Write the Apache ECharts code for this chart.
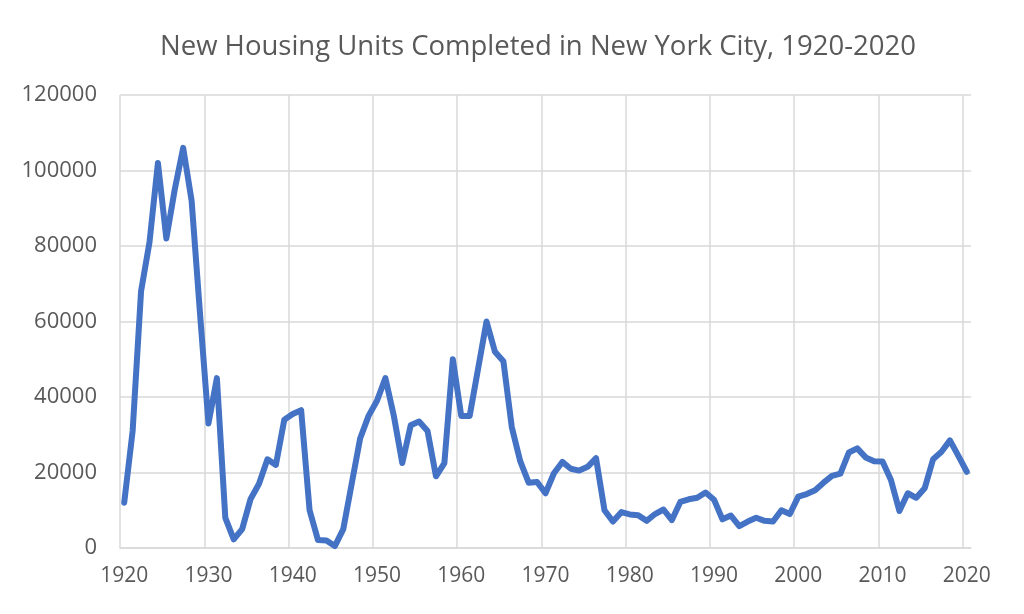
<!DOCTYPE html>
<html>
<head>
<meta charset="utf-8">
<script src="https://cdn.jsdelivr.net/npm/echarts@6/dist/echarts.min.js"></script>
<style>html,body{margin:0;padding:0;background:#fff}#c{width:1024px;height:614px}</style>
</head>
<body>
<div id="c"></div>
<script>
const titleText = "New Housing Units Completed in New York City, 1920-2020";
const years = [];
for (let y = 1920; y <= 2020; y++) years.push(String(y));
const units1920s = [12000, 31000, 68000, 81000, 102000, 82000, 95000, 106000, 92000, 62000];
const units1930s = [33000, 45000, 8000, 2300, 5000, 13000, 17000, 23500, 22000, 34000];
const units1940s = [35500, 36500, 10000, 2100, 2000, 500, 5000, 17000, 29000, 35000];
const units1950s = [39000, 45000, 35000, 22500, 32500, 33500, 31000, 19000, 22500, 50000];
const units1960s = [35000, 35000, 47500, 60000, 52000, 49500, 32000, 23000, 17300, 17500];
const units1970s = [14500, 19800, 22800, 21000, 20500, 21500, 23800, 10000, 7000, 9500];
const units1980s = [8900, 8700, 7200, 9000, 10200, 7400, 12200, 12900, 13300, 14700];
const units1990s = [12800, 7600, 8600, 5800, 7000, 8000, 7200, 7000, 10000, 9000];
const units2000s = [13600, 14300, 15300, 17300, 19100, 19700, 25300, 26400, 24000, 23000];
const units2010s = [22900, 18000, 9800, 14500, 13300, 15800, 23500, 25500, 28500, 24400];
const units2020 = [20200];
const units = [].concat(units1920s, units1930s, units1940s, units1950s, units1960s,
  units1970s, units1980s, units1990s, units2000s, units2010s, units2020);

const chart = echarts.init(document.getElementById('c'), null, {renderer: 'canvas'});
const gridColor = '#d9d9d9';
const textColor = '#595959';
// plot spans 101 year bands; vertical gridlines sit at the left edge of every 10th band
const plotLeft = 120, plotRight = 971;
const bandW = (plotRight - plotLeft) / years.length;
chart.setOption({
  animation: false,
  backgroundColor: '#ffffff',
  title: {
    text: titleText,
    left: 155,
    top: 28,
    textStyle: {fontFamily: 'Open Sans', fontSize: 27.5, fontWeight: 'normal', color: textColor}
  },
  grid: [
    {left: plotLeft, right: 1024 - plotRight, top: 95, bottom: 66, containLabel: false},
    {left: plotLeft, right: 1024 - (plotRight - bandW), top: 95, bottom: 66, containLabel: false}
  ],
  xAxis: [{
    type: 'category',
    gridIndex: 0,
    data: years,
    boundaryGap: true,
    axisLine: {lineStyle: {color: gridColor, width: 1.5}},
    axisTick: {show: false},
    axisLabel: {interval: 9, color: textColor, fontFamily: 'Open Sans', fontSize: 21, margin: 18},
    splitLine: {show: false}
  }, {
    type: 'value',
    gridIndex: 1,
    min: 0,
    max: years.length - 1,
    interval: 10,
    axisLine: {show: false},
    axisTick: {show: false},
    axisLabel: {show: false},
    splitLine: {show: true, lineStyle: {color: gridColor, width: 1.5}}
  }],
  yAxis: [{
    type: 'value',
    gridIndex: 0,
    min: 0,
    max: 120000,
    interval: 20000,
    axisLine: {show: false},
    axisTick: {show: false},
    axisLabel: {color: textColor, fontFamily: 'Open Sans', fontSize: 22, margin: 23,
      formatter: function (v) { return String(v); }},
    splitLine: {lineStyle: {color: gridColor, width: 1.5}}
  }, {
    type: 'value',
    gridIndex: 1,
    min: 0,
    max: 1,
    show: false
  }],
  series: [{
    type: 'line',
    xAxisIndex: 0,
    yAxisIndex: 0,
    data: units,
    symbol: 'none',
    smooth: false,
    z: 5,
    lineStyle: {color: '#4472C4', width: 6, cap: 'round', join: 'round'}
  }]
});
</script>
</body>
</html>
